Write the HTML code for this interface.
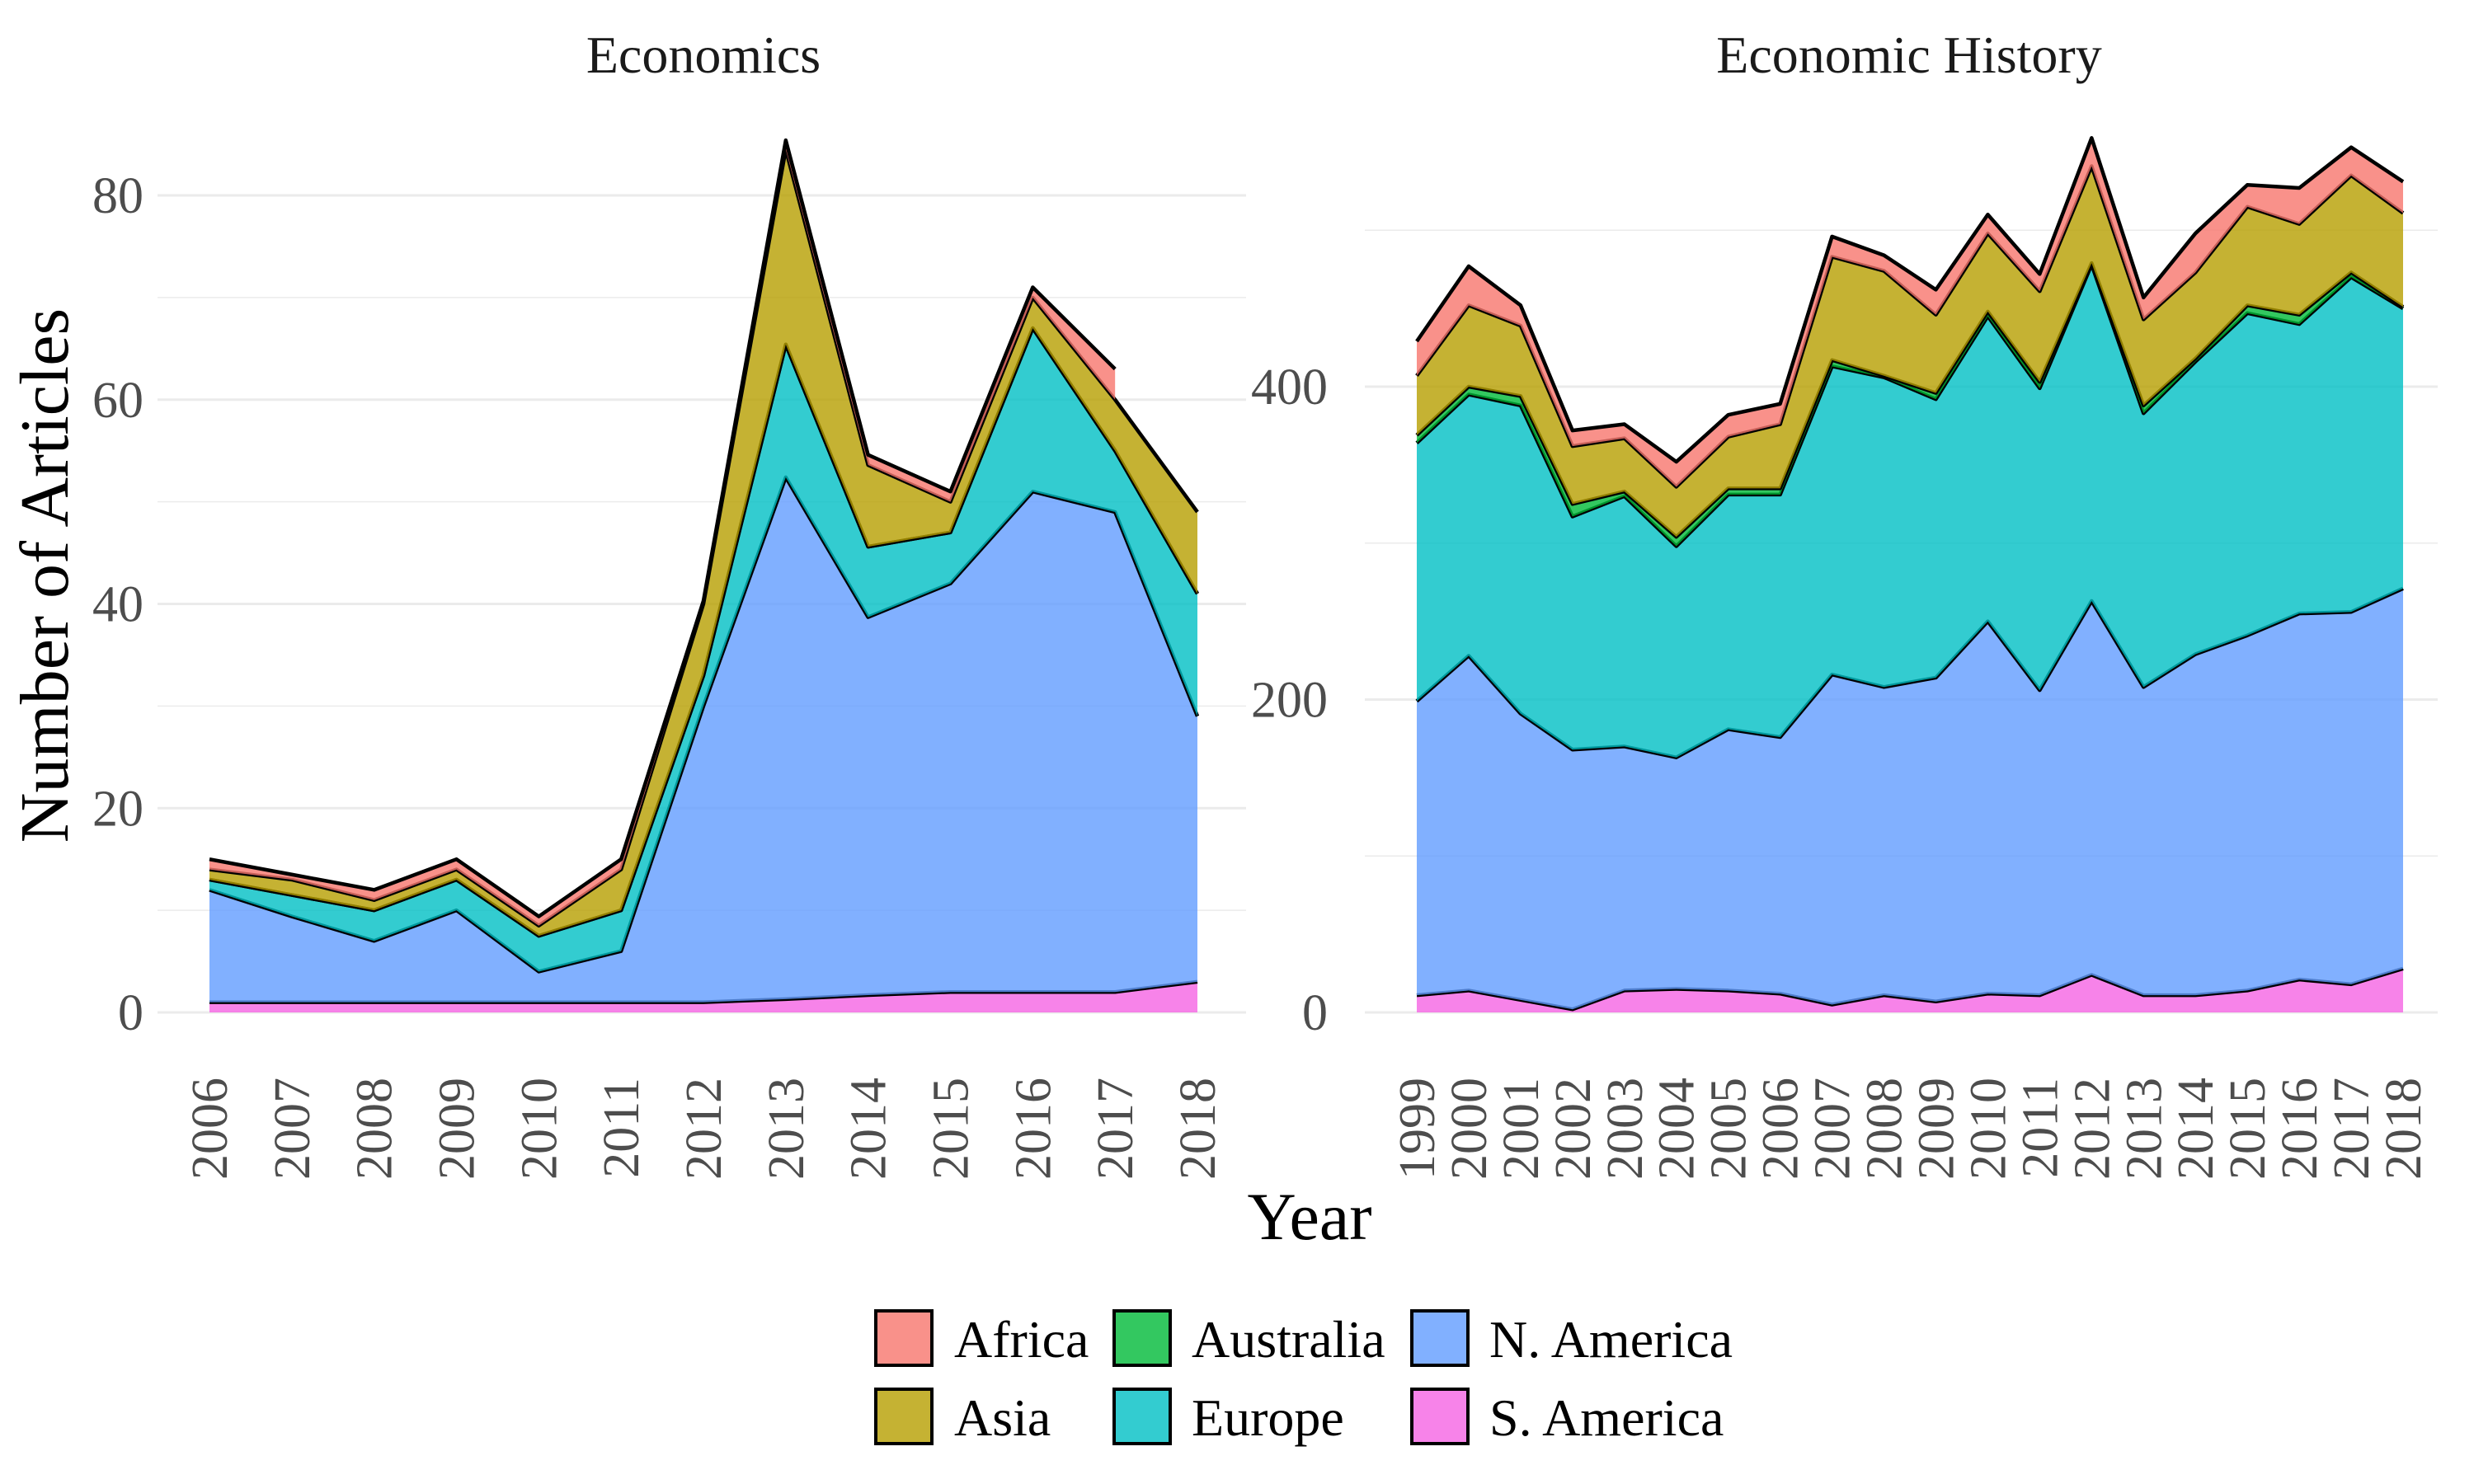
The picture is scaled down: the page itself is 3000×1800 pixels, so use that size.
<!DOCTYPE html>
<html><head><meta charset="utf-8"><style>
html,body{margin:0;padding:0;background:#fff;}
svg{display:block;font-family:"Liberation Serif",serif;}
</style></head><body>
<svg id="chart" width="3000" height="1800" viewBox="0 0 3000 1800" xmlns="http://www.w3.org/2000/svg">
<rect width="3000" height="1800" fill="#fff"/>
<text x="853" y="88" font-size="64" text-anchor="middle" fill="#1a1a1a">Economics</text>
<text x="2315" y="88" font-size="64" text-anchor="middle" fill="#1a1a1a">Economic History</text>
<text transform="translate(82,698) rotate(-90)" font-size="84" text-anchor="middle" fill="#000">Number of Articles</text>
<text x="1588" y="1503" font-size="82" text-anchor="middle" fill="#000">Year</text>
<g id="legend"></g>
</svg>
<script>
const seriesNames = ["S. America","N. America","Europe","Australia","Asia","Africa"];
const seriesColors = ["#F564E3","#619CFF","#00BFC4","#00BA38","#B79F00","#F8766D"];

const econYears = [2006,2007,2008,2009,2010,2011,2012,2013,2014,2015,2016,2017,2018];
const econSAmerica = [1,1,1,1,1,1,1,1.3,1.7,2,2,2,3];
const econNAmerica = [11,8.4,6,9,3,5,29,51.1,37,40,49,47,26];
const econEurope = [1,2.1,3,3,3.5,4,3,13,6.9,5,16,6,12];
const econAustralia = [0,0,0,0,0,0,0,0,0,0,0,0,0];
const econAsia = [1,1.5,1,1,1,4,7,19.1,8,3,3,5,8];
const econAfrica = [1,0.5,1,1,0.9,1,0.3,0.9,1,1,1,3,null];
const econTicks = [0,20,40,60,80];
const econMinor = [10,30,50,70];

const histYears = [1999,2000,2001,2002,2003,2004,2005,2006,2007,2008,2009,2010,2011,2012,2013,2014,2015,2016,2017,2018];
const histSAmerica = [11,14,8,2,14,15,14,12,5,11,7,12,11,24,11,11,14,21,18,28];
const histNAmerica = [188,214,183,166,156,148,167,164,211,197,207,238,195,239,197,218,227,234,238,243];
const histEurope = [165,167,197,149,160,135,150,155,197,198,178,195,193,215,175,187,206,185,214,179];
const histAustralia = [5,5,6,8,3,6,4,4,4,1,4,3,4,1,5,2,5,6,3,1];
const histAsia = [38,52,45,37,34,32,33,41,66,67,50,50,58,62,55,55,63,58,62,60];
const histAfrica = [22,25,13,10,9,16,14,13,13,10,16,12,11,18,14,25,14,23,18,20];
const histTicks = [0,200,400];
const histMinor = [100,300,500];

const legendOrder = [["Africa",5],["Asia",4],["Australia",3],["Europe",2],["N. America",1],["S. America",0]];

const NS = "http://www.w3.org/2000/svg";
const svg = document.getElementById('chart');
function mk(tag, attrs, parent){const e=document.createElementNS(NS,tag);for(const k in attrs)e.setAttribute(k,attrs[k]);(parent||svg).appendChild(e);return e;}

function panel(cfg){
  const g = mk('g',{});
  
  
  const xs = v => cfg.x0 + (v - cfg.years[0]) * (cfg.x1 - cfg.x0) / (cfg.years[cfg.years.length-1] - cfg.years[0]);
  const ys = v => cfg.y0 - v * (cfg.y0 - cfg.yTop) / cfg.yTopVal;
  cfg.minor.forEach(t=>{ if(ys(t) < cfg.gTop) return;
    const l = mk('line',{x1:cfg.gx0,x2:cfg.gx1,y1:ys(t),y2:ys(t),stroke:'#EBEBEB','stroke-width':1.6},g);
    
    
  });
  cfg.ticks.forEach(t=>{
    const l = mk('line',{x1:cfg.gx0,x2:cfg.gx1,y1:ys(t),y2:ys(t),stroke:'#EBEBEB','stroke-width':3},g);
    
    
    const tx = mk('text',{x:cfg.labelX,y:ys(t)+21,'font-size':62,'text-anchor':'end',fill:'#4D4D4D'},g);
    tx.textContent = t;
    
    
  });
  cfg.years.forEach(yr=>{
    const tx = mk('text',{transform:`translate(${xs(yr)+21},1307) rotate(-90)`,'font-size':62,'text-anchor':'end',fill:'#4D4D4D'},g);
    tx.textContent = yr;
    
    
  });
  const n = cfg.years.length;
  let base = new Array(n).fill(0);
  cfg.series.forEach((vals, si)=>{
    const top = vals.map((v,i)=> v==null ? null : base[i] + v);
    let seg = [];
    const segs = [];
    for(let i=0;i<n;i++){ if(top[i]==null){ if(seg.length) segs.push(seg); seg=[]; } else seg.push(i); }
    if(seg.length) segs.push(seg);
    segs.forEach(s=>{
      let d = s.map((i,k)=>(k?'L':'M')+xs(cfg.years[i])+','+ys(top[i])).join(' ');
      let back = s.slice().reverse().map(i=>'L'+xs(cfg.years[i])+','+ys(base[i])).join(' ');
      const a = mk('path',{d:d+' '+back+' Z',fill:seriesColors[si],'fill-opacity':0.8,stroke:'none'},g);
      
      
    });
    segs.forEach(s=>{
      const d = s.map((i,k)=>(k?'L':'M')+xs(cfg.years[i])+','+ys(top[i])).join(' ');
      const l = mk('path',{d:d,fill:'none',stroke:'#000','stroke-width':4.5,'stroke-linejoin':'round'},g);
      
      
    });
    base = base.map((b,i)=> top[i]==null ? b : top[i]);
  });
}

panel({name:'economics-panel', years:econYears, x0:254, x1:1452, y0:1228, yTop:237, yTopVal:80, gx0:191, gx1:1511, gTop:200, labelX:174,
  ticks:econTicks, minor:econMinor, series:[econSAmerica,econNAmerica,econEurope,econAustralia,econAsia,econAfrica]});
panel({name:'economic-history-panel', years:histYears, x0:1718, x1:2914, y0:1228, yTop:469, yTopVal:400, gx0:1655, gx1:2956, gTop:200, labelX:1610,
  ticks:histTicks, minor:histMinor, series:[histSAmerica,histNAmerica,histEurope,histAustralia,histAsia,histAfrica]});

const lg = document.getElementById('legend');
const colKeyX = [1062,1351,1712], colTextX = [1157,1445,1806], rowY = [1590,1685];
legendOrder.forEach(([name,si],k)=>{
  const c = Math.floor(k/2), r = k%2;
  const grp = mk('g',{},lg);
  
  
  const rc = mk('rect',{x:colKeyX[c],y:rowY[r],width:68,height:66,fill:seriesColors[si],'fill-opacity':0.8,stroke:'#000','stroke-width':4},grp);
  
  
  const t = mk('text',{x:colTextX[c],y:rowY[r]+56,'font-size':64,fill:'#000'},grp);
  t.textContent = name;
  
  
});
</script>
</body></html>
